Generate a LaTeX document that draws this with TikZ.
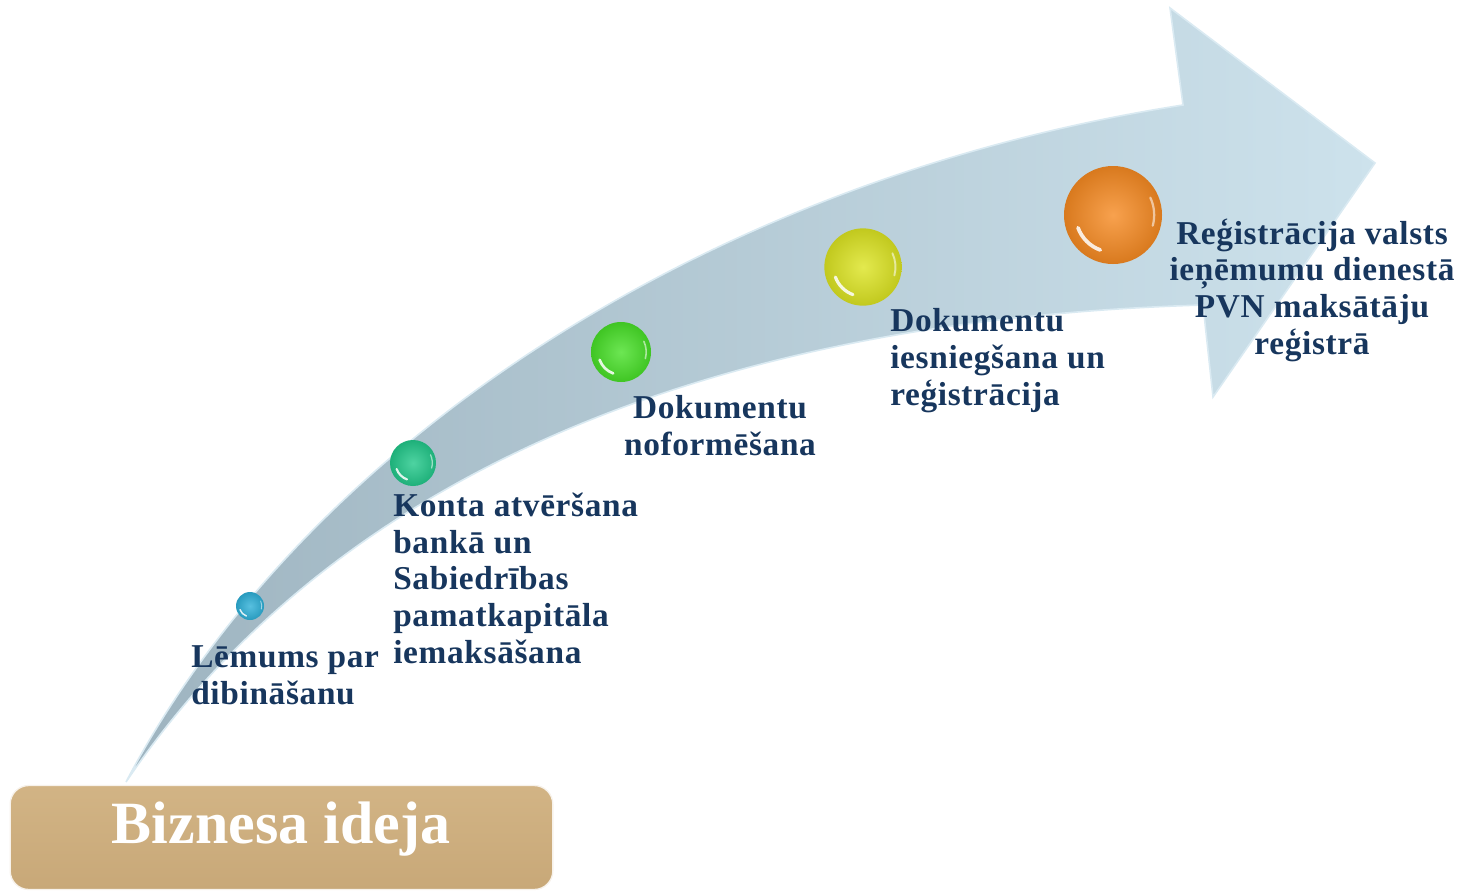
\documentclass[tikz,border=0pt]{standalone}
\usepackage{fontspec}
\setmainfont{Liberation Serif}
\newfontfamily\lblfont{Liberation Serif}[LetterSpace=2.0]
\definecolor{navy}{HTML}{17365D}
\definecolor{tan}{HTML}{C8A878}
\definecolor{tanlight}{HTML}{D2B485}
\definecolor{arrowL}{RGB}{158,180,192}
\definecolor{arrowR}{RGB}{205,226,236}
\definecolor{arrowEdge}{RGB}{218,234,242}
\definecolor{cBlue}{HTML}{2EB0D8}
\definecolor{cTeal}{HTML}{22C88A}
\definecolor{cGreen}{HTML}{48E028}
\definecolor{cYellow}{HTML}{DCE422}
\definecolor{cOrange}{HTML}{F68A22}
\begin{document}
\begin{tikzpicture}[x=0.75pt,y=-0.75pt,
  lbl/.style={inner sep=0pt, text=navy, font=\lblfont\fontsize{25}{27.4}\selectfont\bfseries},
  ballnode/.style={circle, inner sep=0pt, draw=none},
  glint/.style={white, line cap=round, opacity=0.85},
  boxstyle/.style={rounded corners=14pt, inner sep=0pt, top color=tanlight, bottom color=tan, draw=white!85!tan, line width=1pt},
  titlestyle/.style={inner sep=0pt, text=white, font=\fontsize{45}{50}\selectfont\bfseries}
]
\useasboundingbox (0,0) rectangle (1469,893);
% arrow
\shade[left color=arrowL, right color=arrowR, draw=arrowEdge, line width=1.2pt, line join=miter]
  (126,782) .. controls (300,450) and (700,180) .. (1183,105)
  -- (1170,8) -- (1375,163) -- (1213,397) -- (1203,305)
  .. controls (700,320) and (330,480) .. (126,782) -- cycle;
% balls
\node[ballnode, inner color=cBlue!80!white, outer color=cBlue!88!black, minimum size=21pt] (b1) at (250,606) {};
\node[ballnode, inner color=cTeal!80!white, outer color=cTeal!88!black, minimum size=34.5pt] (b2) at (413,463) {};
\node[ballnode, inner color=cGreen!80!white, outer color=cGreen!88!black, minimum size=45pt] (b3) at (621,352) {};
\node[ballnode, inner color=cYellow!80!white, outer color=cYellow!88!black, minimum size=58pt] (b4) at (863,267) {};
\node[ballnode, inner color=cOrange!80!white, outer color=cOrange!88!black, minimum size=73.5pt] (b5) at (1113,215) {};
% glints
\foreach \b/\r/\w in {b1/10.5/1.1, b2/17.25/1.6, b3/22.5/2, b4/29/2.4, b5/36.75/2.8}{
  \begin{scope}[shift={(\b.center)}, x=1pt, y=1pt]
    \draw[glint, line width=\w pt] (200:0.76*\r) arc[start angle=200, end angle=250, radius=0.76*\r];
    \draw[glint, line width=0.6*\w pt, opacity=0.55] (25:0.84*\r) arc[start angle=25, end angle=-15, radius=0.84*\r];
  \end{scope}
}
% labels
\node[lbl, align=left, anchor=base west] (t1) at (191,704) {Lēmums par\\dibināšanu};
\node[lbl, align=left, anchor=base west] (t2) at (393,663) {Konta atvēršana\\bankā un\\Sabiedrības\\pamatkapitāla\\iemaksāšana};
\node[lbl, align=center, anchor=base] (t3) at (720,455) {Dokumentu\\noformēšana};
\node[lbl, align=left, anchor=base west] (t4) at (890,405) {Dokumentu\\iesniegšana un\\reģistrācija};
\node[lbl, align=center, anchor=base] (t5) at (1312,354) {Reģistrācija valsts\\ieņēmumu dienestā\\PVN maksātāju\\reģistrā};
% box
\node[boxstyle, minimum width=407pt, minimum height=78pt] (box) at (281.5,837.5) {};
\node[titlestyle, anchor=base] (title) at (281,843) {Biznesa ideja};
\end{tikzpicture}
\end{document}
